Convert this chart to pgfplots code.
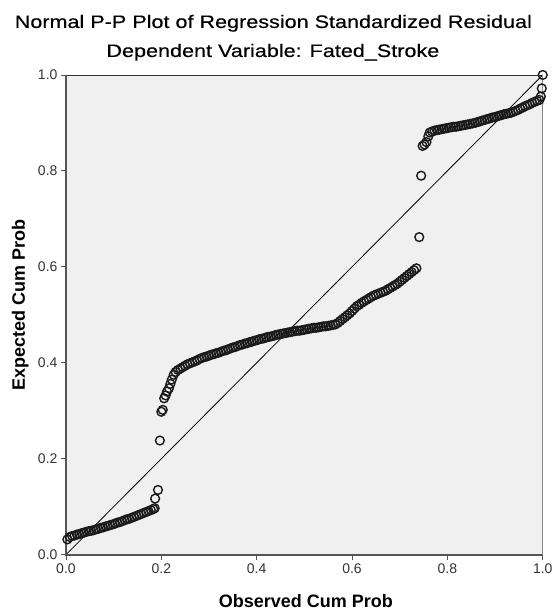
\documentclass[border=0pt]{standalone}
\usepackage{fontspec}
\setmainfont{Liberation Sans}
\newfontfamily\titlefont[FakeStretch=1.2, FakeBold=0.4]{Liberation Sans}
\usepackage{pgfplots}
\pgfplotsset{compat=1.18}
\definecolor{bgc}{HTML}{F0F0F0}
\definecolor{markc}{HTML}{1A1A1A}
\definecolor{axc}{HTML}{555555}
\definecolor{tickc}{HTML}{333333}

\begin{document}
\begin{tikzpicture}
\begin{axis}[
    scale only axis,
    width=477pt, height=480pt,
    xmin=0, xmax=1, ymin=0, ymax=1,
    xtick={0,0.2,...,1.0}, ytick={0,0.2,...,1.0},
    tick pos=left,
    tick align=outside,
    major tick length=5pt,
    tick style={axc, line width=0.9pt},
    /pgf/number format/.cd, fixed, fixed zerofill, precision=1, assume math mode=true,
    /pgfplots/.cd,
    ticklabel style={font=\fontsize{14}{16}\selectfont, text=tickc},
    axis background/.style={fill=bgc},
    axis line style={draw=black!80, line width=0.6pt},
    xlabel={\textbf{Observed Cum Prob}},
    ylabel={\textbf{Expected Cum Prob}},
    label style={font=\fontsize{18}{20}\selectfont},
    xlabel style={at={(axis description cs:0.503,-0.110)}, anchor=base},
    ylabel style={at={(axis description cs:-0.086,0.521)}, anchor=base},
    clip=false,
]
\coordinate (sw) at (rel axis cs:0,0);
\coordinate (ne) at (rel axis cs:1,1);
\node[anchor=base, font=\titlefont\fontsize{18}{20}\selectfont] at (axis description cs:0.435,1.098)
    {Normal P-P Plot of Regression Standardized Residual};
\node[anchor=base, font=\titlefont\fontsize{18}{20}\selectfont] at (axis description cs:0.434,1.0375)
    {Dependent Variable: Fated\_Stroke};
\addplot[black, line width=0.8pt] coordinates {(0,0) (1,1)};
\addplot[only marks, mark=o, mark size=4.4pt, mark options={draw=markc, line width=1.4pt}] coordinates {
(0.003,0.032) (0.008,0.037) (0.013,0.039) (0.018,0.040) (0.023,0.042) (0.028,0.043)
(0.033,0.045) (0.038,0.046) (0.043,0.048) (0.048,0.049) (0.053,0.050) (0.058,0.051)
(0.063,0.053) (0.068,0.054) (0.073,0.056) (0.078,0.057) (0.083,0.059) (0.088,0.060)
(0.093,0.062) (0.098,0.063) (0.103,0.065) (0.108,0.067) (0.113,0.068) (0.118,0.070)
(0.123,0.072) (0.128,0.074) (0.133,0.075) (0.138,0.077) (0.143,0.079) (0.148,0.081)
(0.153,0.083) (0.158,0.085) (0.163,0.087) (0.168,0.089) (0.173,0.091) (0.178,0.093)
(0.183,0.095) (0.186,0.097)
(0.187,0.117) (0.193,0.135) (0.197,0.238)
(0.200,0.298) (0.203,0.302) (0.206,0.326) (0.209,0.332) (0.212,0.340) (0.216,0.347)
(0.219,0.356) (0.222,0.365) (0.226,0.375)
(0.230,0.381) (0.235,0.385) (0.240,0.388) (0.245,0.391) (0.250,0.394) (0.255,0.397)
(0.260,0.399) (0.265,0.401) (0.270,0.403) (0.275,0.405) (0.280,0.408) (0.285,0.410)
(0.290,0.412) (0.295,0.413) (0.300,0.415) (0.305,0.417) (0.310,0.418) (0.315,0.420)
(0.320,0.421) (0.325,0.423) (0.330,0.425) (0.335,0.426) (0.340,0.428) (0.345,0.430)
(0.350,0.432) (0.355,0.433) (0.360,0.435) (0.365,0.437) (0.370,0.438) (0.375,0.440)
(0.380,0.441) (0.385,0.443) (0.390,0.444) (0.395,0.446) (0.400,0.447) (0.405,0.449)
(0.410,0.450) (0.415,0.451) (0.420,0.453) (0.425,0.454) (0.430,0.455) (0.435,0.456)
(0.440,0.458) (0.445,0.459) (0.450,0.460) (0.455,0.461) (0.460,0.462) (0.465,0.463)
(0.470,0.464) (0.475,0.465) (0.480,0.466) (0.485,0.467) (0.490,0.467) (0.495,0.468)
(0.500,0.469) (0.505,0.470) (0.510,0.471) (0.515,0.472) (0.520,0.473) (0.525,0.473)
(0.530,0.474) (0.535,0.475) (0.540,0.476) (0.545,0.476) (0.550,0.477) (0.555,0.478)
(0.560,0.479) (0.565,0.480) (0.570,0.483) (0.575,0.487) (0.580,0.491) (0.585,0.495)
(0.590,0.499) (0.595,0.503) (0.600,0.508) (0.605,0.513) (0.610,0.518) (0.615,0.521)
(0.620,0.525) (0.625,0.528) (0.630,0.531) (0.635,0.534) (0.640,0.537) (0.645,0.540)
(0.650,0.542) (0.655,0.544) (0.660,0.546) (0.665,0.548) (0.670,0.550) (0.675,0.553)
(0.680,0.556) (0.685,0.559) (0.690,0.562) (0.695,0.565) (0.700,0.569) (0.705,0.573)
(0.710,0.577) (0.715,0.581) (0.720,0.585) (0.725,0.589) (0.730,0.593) (0.735,0.597)
(0.741,0.662) (0.745,0.790)
(0.748,0.852) (0.752,0.855) (0.756,0.860) (0.760,0.872) (0.763,0.880)
(0.768,0.882) (0.773,0.884) (0.778,0.885) (0.783,0.886) (0.788,0.887) (0.793,0.888)
(0.798,0.889) (0.803,0.890) (0.808,0.891) (0.813,0.892) (0.818,0.892) (0.823,0.893)
(0.828,0.894) (0.833,0.895) (0.838,0.896) (0.843,0.897) (0.848,0.898) (0.853,0.899)
(0.858,0.900) (0.863,0.902) (0.868,0.903) (0.873,0.905) (0.878,0.906) (0.883,0.908)
(0.888,0.909) (0.893,0.911) (0.898,0.912) (0.903,0.913) (0.908,0.915) (0.913,0.916)
(0.918,0.918) (0.923,0.919) (0.928,0.920) (0.933,0.921) (0.938,0.923) (0.943,0.925)
(0.948,0.927) (0.953,0.930) (0.958,0.932) (0.963,0.935) (0.968,0.937) (0.973,0.939)
(0.978,0.942) (0.983,0.944) (0.988,0.946) (0.993,0.948) (0.996,0.955) (0.998,0.972)
(1.000,1.000)
};
% heavier left and bottom axis lines as in SPSS output
\draw[axc, line width=1.6pt] (rel axis cs:0,1) -- (rel axis cs:0,0) -- (rel axis cs:1,0);
\draw[axc!70, line width=1.2pt] (rel axis cs:1,0) -- (rel axis cs:1,1);
\end{axis}
\path ([shift={(-66pt,-56pt)}]sw) rectangle ([shift={(13pt,75pt)}]ne);
\end{tikzpicture}
\end{document}
